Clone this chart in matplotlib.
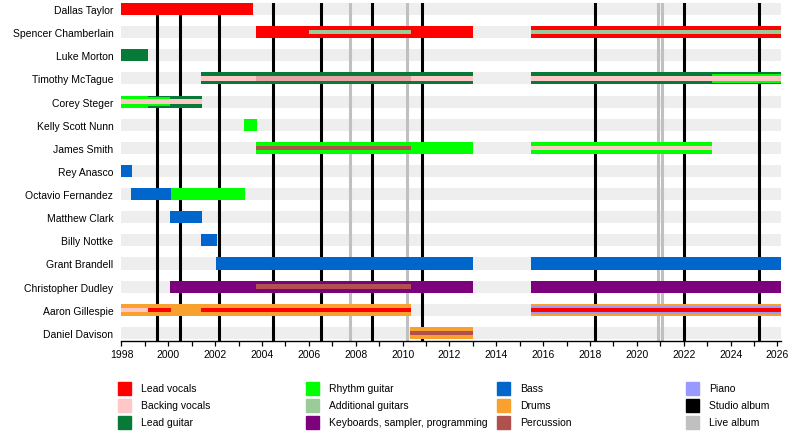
import matplotlib
matplotlib.use("Agg")
import matplotlib.pyplot as plt
from matplotlib.patches import Rectangle
from matplotlib.ticker import MultipleLocator

plt.rcParams['font.family'] = ['Liberation Sans', 'DejaVu Sans']

START = 1998.0
END = 2026.15

members = ["Dallas Taylor", "Spencer Chamberlain", "Luke Morton", "Timothy McTague",
           "Corey Steger", "Kelly Scott Nunn", "James Smith", "Rey Anasco",
           "Octavio Fernandez", "Matthew Clark", "Billy Nottke", "Grant Brandell",
           "Christopher Dudley", "Aaron Gillespie", "Daniel Davison"]

roles = ["Lead vocals", "Backing vocals", "Lead guitar", "Rhythm guitar",
         "Additional guitars", "Keyboards, sampler, programming", "Bass", "Drums",
         "Percussion", "Piano"]
role_colors = ["#FF0000", "#FFC8C8", "#087A38", "#00FF00", "#99CC99",
               "#7D007D", "#0066CC", "#F9A12E", "#B0504F", "#9999FF"]

# (member, role, start, end)
full_bars = [
    ("Dallas Taylor", "Lead vocals", 1998.0, 2003.61),
    ("Spencer Chamberlain", "Lead vocals", 2003.74, 2013.0),
    ("Spencer Chamberlain", "Lead vocals", 2015.5, END),
    ("Luke Morton", "Lead guitar", 1998.0, 1999.12),
    ("Timothy McTague", "Lead guitar", 2001.4, 2013.0),
    ("Timothy McTague", "Lead guitar", 2015.5, END),
    ("Corey Steger", "Rhythm guitar", 1998.0, 1999.12),
    ("Corey Steger", "Lead guitar", 1999.12, 2001.42),
    ("Kelly Scott Nunn", "Rhythm guitar", 2003.23, 2003.79),
    ("James Smith", "Rhythm guitar", 2003.74, 2013.0),
    ("James Smith", "Rhythm guitar", 2015.5, 2023.22),
    ("Rey Anasco", "Bass", 1998.0, 1998.45),
    ("Octavio Fernandez", "Bass", 1998.41, 2000.1),
    ("Octavio Fernandez", "Rhythm guitar", 2000.1, 2003.27),
    ("Matthew Clark", "Bass", 2000.07, 2001.42),
    ("Billy Nottke", "Bass", 2001.4, 2002.08),
    ("Grant Brandell", "Bass", 2002.03, 2013.0),
    ("Grant Brandell", "Bass", 2015.5, END),
    ("Christopher Dudley", "Keyboards, sampler, programming", 2000.07, 2013.0),
    ("Christopher Dudley", "Keyboards, sampler, programming", 2015.5, END),
    ("Aaron Gillespie", "Drums", 1998.0, 2010.34),
    ("Aaron Gillespie", "Drums", 2015.5, END),
    ("Daniel Davison", "Drums", 2010.32, 2013.0),
]

middle_bars = [
    ("Timothy McTague", "Rhythm guitar", 2023.2, END),
    ("Corey Steger", "Rhythm guitar", 1999.12, 2000.08),
    ("Aaron Gillespie", "Piano", 2015.5, END),
]

inner_bars = [
    ("Spencer Chamberlain", "Additional guitars", 2006.02, 2010.34),
    ("Spencer Chamberlain", "Additional guitars", 2015.5, END),
    ("Timothy McTague", "Backing vocals", 2001.4, 2013.0),
    ("Timothy McTague", "Backing vocals", 2015.5, END),
    ("Corey Steger", "Backing vocals", 1998.0, 2001.42),
    ("James Smith", "Percussion", 2003.74, 2010.34),
    ("James Smith", "Backing vocals", 2015.5, 2023.22),
    ("Christopher Dudley", "Percussion", 2003.74, 2010.34),
    ("Aaron Gillespie", "Backing vocals", 1998.0, 1999.12),
    ("Aaron Gillespie", "Lead vocals", 1999.12, 2000.1),
    ("Aaron Gillespie", "Lead vocals", 2001.38, 2010.34),
    ("Aaron Gillespie", "Lead vocals", 2015.5, END),
    ("Daniel Davison", "Percussion", 2010.32, 2013.0),
]

# shared stripe (drawn translucent over the backing-vocals stripe)
overlay_bars = [
    ("Timothy McTague", "Percussion", 2003.74, 2010.34),
]

studio_albums = [1999.50, 2000.50, 2002.18, 2004.46, 2006.51, 2008.68,
                 2010.83, 2018.23, 2022.03, 2025.23]
live_albums = [2007.76, 2010.20, 2020.88, 2021.08]

color_of = dict(zip(roles, role_colors))
row_of = {m: i for i, m in enumerate(members)}

fig = plt.figure(figsize=(8, 4.35), dpi=100)
ax = fig.add_axes([121 / 800, 1 - 342 / 435, 660 / 800, 338 / 435])

FULL_H, MID_H, IN_H = 0.52, 0.36, 0.19

# background bands
for m in members:
    ax.barh(row_of[m], END - START, left=START, height=FULL_H,
            color="#EEEEEE", zorder=1, linewidth=0)

for x in live_albums:
    ax.axvline(x, color="#C0C0C0", lw=2.2, zorder=2)
for x in studio_albums:
    ax.axvline(x, color="black", lw=2.2, zorder=2)

for layer, h, z, a in [(full_bars, FULL_H, 3, 1.0), (middle_bars, MID_H, 4, 1.0),
                       (inner_bars, IN_H, 5, 1.0), (overlay_bars, IN_H, 6, 0.3)]:
    for m, r, s, e in layer:
        ax.barh(row_of[m], e - s, left=s, height=h, color=color_of[r],
                zorder=z, linewidth=0, alpha=a)

ax.set_xlim(1997.98, END)
ax.set_ylim(14.35, -0.26)
ax.set_yticks(range(len(members)))
ax.set_yticklabels(members, fontsize=7.5)
ax.tick_params(axis='y', length=0, pad=5.5)
ax.xaxis.set_major_locator(MultipleLocator(2))
ax.xaxis.set_minor_locator(MultipleLocator(1))
ax.tick_params(axis='x', which='both', length=3.5, width=0.9, labelsize=7.5, pad=2)
for sp in ["left", "top", "right"]:
    ax.spines[sp].set_visible(False)
ax.spines["bottom"].set_linewidth(1.0)
ax.set_facecolor("white")

# legend
legend_items = roles + ["Studio album", "Live album"]
legend_colors = role_colors + ["black", "#C0C0C0"]
col_x = [118, 306, 497, 686]
row_y = [389, 406, 423]
for idx, (lab, col) in enumerate(zip(legend_items, legend_colors)):
    c, rr = divmod(idx, 3)
    x0 = col_x[c]
    yc = row_y[rr]
    fig.patches.append(Rectangle((x0 / 800, 1 - (yc + 6.5) / 435), 13 / 800, 13 / 435,
                                 transform=fig.transFigure, color=col))
    fig.text((x0 + 23) / 800, 1 - yc / 435, lab, fontsize=7.5,
             va="center", ha="left")

fig.savefig("out.png", dpi=100)
